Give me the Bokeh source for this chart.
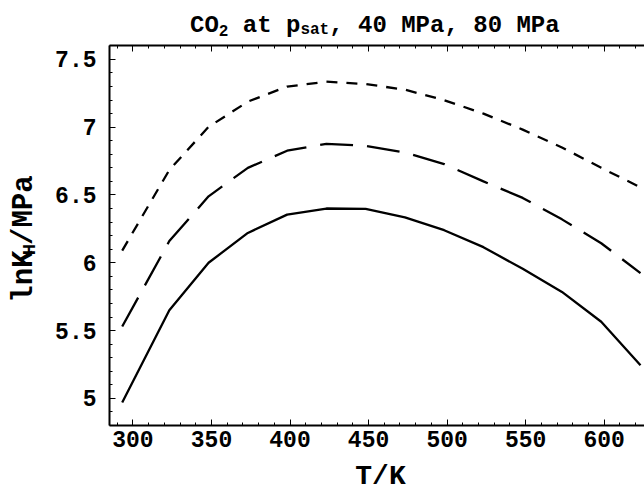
from bokeh.plotting import figure
from bokeh.models import (Range1d, Label, LinearAxis, SingleIntervalTicker,
                          CustomJSTickFormatter)
from bokeh.layouts import column, row
from bokeh.embed import file_html
from bokeh.resources import INLINE
import math

# ---- data ----
T = [293.15, 323.15, 348.15, 373.15, 398.15, 423.15, 448.15, 473.15,
     498.15, 523.15, 548.15, 573.15, 598.15, 623.15]
lnKH_psat = [4.97, 5.65, 6.00, 6.22, 6.355, 6.40, 6.397, 6.335,
             6.24, 6.115, 5.955, 5.785, 5.565, 5.245]
lnKH_40 = [5.53, 6.16, 6.49, 6.70, 6.826, 6.877, 6.862, 6.813,
           6.728, 6.60, 6.478, 6.32, 6.144, 5.924]
lnKH_80 = [6.09, 6.684, 7.002, 7.188, 7.299, 7.335, 7.318, 7.276,
           7.199, 7.10, 6.982, 6.85, 6.70, 6.556]
y_ticks = [5, 5.5, 6, 6.5, 7, 7.5]
y_tick_labels = ["5", "5.5", "6", "6.5", "7", "7.5"]
title_pieces = [("CO", False), ("2", True), (" at p", False), ("sat", True),
                (", 40 MPa, 80 MPa", False)]
ylabel_pieces = [("lnK", False), ("H", True), ("/MPa", False)]
xlabel = "T/K"

FONT = "Liberation Mono"
TICK_FS = 23
LAB_FS = 29
XLAB_FS = 28
LAB_SUB_FS = 19
TITLE_FS = 24
TITLE_SUB_FS = 16

W = 644
TITLE_H = 40
MAIN_H = 418
XLAB_H = 33
YLAB_W = 48


def blank_fig(w, h):
    f = figure(width=w, height=h, output_backend="svg", toolbar_location=None,
               x_range=Range1d(0, w), y_range=Range1d(0, h),
               x_axis_location=None, y_axis_location=None, min_border=0)
    f.outline_line_color = None
    f.grid.visible = False
    f.background_fill_color = "white"
    f.border_fill_color = "white"
    return f


def lab(f, x, y, text, fs, align="left", baseline="alphabetic", angle=0.0):
    f.add_layout(Label(x=x, y=y, text=text, text_font=FONT,
                       text_font_style="bold", text_font_size=f"{fs}px",
                       text_color="black", text_align=align,
                       text_baseline=baseline, angle=angle))


# ---- main plot ----
p = figure(width=W - YLAB_W, height=MAIN_H, output_backend="svg",
           toolbar_location=None,
           x_range=Range1d(285.06, 625.7), y_range=Range1d(4.80, 7.602),
           min_border_left=61, min_border_right=0, min_border_top=5,
           min_border_bottom=33)
p.outline_line_color = None
p.grid.visible = False
p.background_fill_color = "white"
p.border_fill_color = "white"

p.line(T, lnKH_psat, line_color="black", line_width=2.3)
p.line(T, lnKH_40, line_color="black", line_width=2.3, line_dash="33 14")
p.line(T, lnKH_80, line_color="black", line_width=2.3, line_dash="11 9")


def style_axis(ax):
    ax.axis_line_width = 2
    ax.axis_line_color = "black"
    ax.major_tick_in = 6
    ax.major_tick_out = 0
    ax.minor_tick_in = 3
    ax.minor_tick_out = 0
    ax.major_tick_line_color = "black"
    ax.minor_tick_line_color = "black"
    ax.major_label_text_font = FONT
    ax.major_label_text_font_style = "bold"
    ax.major_label_text_font_size = f"{TICK_FS}px"
    ax.major_label_text_color = "black"


xa = p.xaxis[0]
xa.ticker = SingleIntervalTicker(interval=50, num_minor_ticks=5)
style_axis(xa)
xa.major_label_standoff = 5

ya = p.yaxis[0]
ya.ticker = SingleIntervalTicker(interval=0.5, num_minor_ticks=5)
ya.major_label_overrides = {v: s for v, s in zip(y_ticks, y_tick_labels)}
style_axis(ya)
ya.major_label_standoff = 13

top = LinearAxis(ticker=SingleIntervalTicker(interval=50, num_minor_ticks=5),
                 formatter=CustomJSTickFormatter(code="return ''"))
style_axis(top)
top.major_label_text_font_size = "1px"
top.major_label_standoff = 0
p.add_layout(top, "above")

# ---- title: CO2 at p_sat, 40 MPa, 80 MPa ----
tf = blank_fig(W, TITLE_H)
x0 = 189.5
for t, s in title_pieces:
    fs = TITLE_SUB_FS if s else TITLE_FS
    adv = 0.6 * fs
    stripped = t.lstrip(" ")
    lead = len(t) - len(stripped)
    lab(tf, x0 + lead * adv, 10.5 if s else 15.0, stripped, fs)
    x0 += len(t) * adv

# ---- y label: lnK_H/MPa ----
yf = blank_fig(YLAB_W, MAIN_H)
y0 = 135
for t, s in ylabel_pieces:
    fs = LAB_SUB_FS if s else LAB_FS
    lab(yf, 29 if s else 24, y0, t, fs, angle=math.pi / 2)
    y0 += len(t) * 0.6 * fs

# ---- x label ----
xf = blank_fig(W, XLAB_H)
lab(xf, 380, 15, xlabel, XLAB_FS, align="center", baseline="middle")

layout = column(tf, row(yf, p), xf)
open("out.html", "w").write(file_html(layout, INLINE))
